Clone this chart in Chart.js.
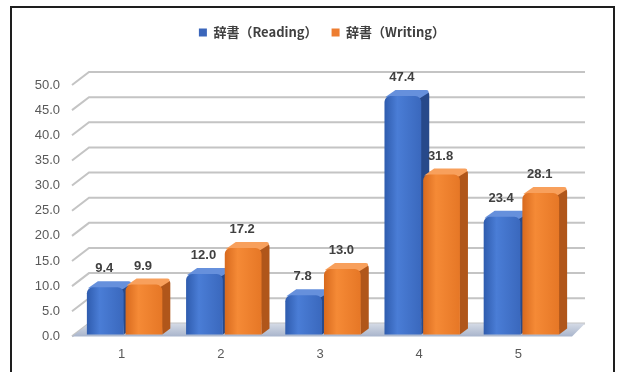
<!DOCTYPE html>
<html><head><meta charset="utf-8">
<script src="https://cdn.jsdelivr.net/npm/chart.js@4/dist/chart.umd.min.js"></script>
<style>html,body{margin:0;padding:0;background:#fff;}#wrap{width:617px;height:372px;position:relative;}</style>
</head><body><div id="wrap"><canvas id="c" width="617" height="372"></canvas></div>
<script>
const categories = ['1', '2', '3', '4', '5'];
const readingValues = [9.4, 12.0, 7.8, 47.4, 23.4];
const writingValues = [9.9, 17.2, 13.0, 31.8, 28.1];
const seriesNames = ['辞書（Reading）', '辞書（Writing）'];
const yTickValues = [0, 5, 10, 15, 20, 25, 30, 35, 40, 45, 50];

const WALL_DX = 17, WALL_DY = -13;
const BAR_DX = 8, BAR_DY = -6;
const BAR_SHIFT_X = 3, BAR_SHIFT_Y = -2;

const palette = [
  { front: ['#2f5cae', '#4a7dd6', '#3a68bd'], side: '#27498a', top: '#6690dc', legend: '#3b66bb' },
  { front: ['#d86a1e', '#f58a36', '#e67726'], side: '#b0561a', top: '#f8a05c', legend: '#ed7d31' }
];

const frame3d = {
  id: 'frame3d',
  beforeInit(chart) {
    const lg = chart.legend;
    if (lg) {
      const orig = lg.fit;
      lg.fit = function () { orig.call(this); this.height += 36; };
    }
  },
  beforeDraw(chart) {
    const ctx = chart.ctx;
    ctx.save();
    ctx.fillStyle = '#ffffff';
    ctx.fillRect(0, 0, chart.width, chart.height);
    ctx.strokeStyle = '#1e1e1e';
    ctx.lineWidth = 2;
    ctx.strokeRect(11, 7, 603, 380);
    ctx.restore();
  },
  beforeDatasetsDraw(chart) {
    const ctx = chart.ctx;
    const area = chart.chartArea;
    const ys = chart.scales.y;
    ctx.save();
    ctx.strokeStyle = '#c4c4c4';
    ctx.lineWidth = 2;
    yTickValues.forEach(v => {
      const py = ys.getPixelForValue(v);
      ctx.beginPath();
      ctx.moveTo(area.left, py);
      ctx.lineTo(area.left + WALL_DX, py + WALL_DY);
      ctx.lineTo(area.right + WALL_DX, py + WALL_DY);
      ctx.stroke();
    });
    const b = ys.getPixelForValue(0);
    const g = ctx.createLinearGradient(0, b + WALL_DY, 0, b);
    g.addColorStop(0, '#d5dbe6');
    g.addColorStop(1, '#a9b5cc');
    ctx.fillStyle = g;
    ctx.beginPath();
    ctx.moveTo(area.left, b);
    ctx.lineTo(area.left + WALL_DX, b + WALL_DY);
    ctx.lineTo(area.right + WALL_DX, b + WALL_DY);
    ctx.lineTo(area.right + 4, b);
    ctx.closePath();
    ctx.fill();

    const metas = [chart.getDatasetMeta(0), chart.getDatasetMeta(1)];
    const labels = [];
    categories.forEach((c, i) => {
      metas.forEach((meta, d) => {
        const el = meta.data[i];
        const p = palette[d];
        const x0 = el.x - el.width / 2 + BAR_SHIFT_X;
        const x1 = x0 + el.width;
        const top = el.y + BAR_SHIFT_Y;
        const base = el.base + BAR_SHIFT_Y;
        ctx.fillStyle = p.side;
        ctx.beginPath();
        ctx.moveTo(x1 - 2, top + 2);
        ctx.lineTo(x1 + BAR_DX - 2, top + BAR_DY + 2);
        ctx.quadraticCurveTo(x1 + BAR_DX, top + BAR_DY + 2, x1 + BAR_DX, top + BAR_DY + 5);
        ctx.lineTo(x1 + BAR_DX, base + BAR_DY);
        ctx.lineTo(x1, base);
        ctx.closePath();
        ctx.fill();
        ctx.fillStyle = p.top;
        ctx.beginPath();
        ctx.moveTo(x0 + 1, top + 1);
        ctx.lineTo(x0 + BAR_DX + 3, top + BAR_DY);
        ctx.lineTo(x1 + BAR_DX - 3, top + BAR_DY);
        ctx.quadraticCurveTo(x1 + BAR_DX, top + BAR_DY, x1 + BAR_DX - 1, top + BAR_DY + 3);
        ctx.lineTo(x1 - 1, top + 2);
        ctx.closePath();
        ctx.fill();
        const fg = ctx.createLinearGradient(x0, 0, x1, 0);
        fg.addColorStop(0, p.front[0]);
        fg.addColorStop(0.35, p.front[1]);
        fg.addColorStop(1, p.front[2]);
        ctx.fillStyle = fg;
        ctx.beginPath();
        ctx.roundRect(x0, top, x1 - x0, base - top, [6, 6, 0, 0]);
        ctx.fill();
        labels.push({ x: (x0 + x1) / 2 - 1, y: top + BAR_DY - 6, v: (d === 0 ? readingValues : writingValues)[i] });
      });
    });
    ctx.fillStyle = '#404040';
    ctx.font = 'bold 13px "Liberation Sans", Arial, sans-serif';
    ctx.textAlign = 'center';
    ctx.textBaseline = 'bottom';
    labels.forEach(l => ctx.fillText(l.v.toFixed(1), l.x, l.y));
    ctx.restore();
    return false;
  }
};

new Chart(document.getElementById('c'), {
  type: 'bar',
  data: {
    labels: categories,
    datasets: [
      { label: seriesNames[0], data: readingValues, backgroundColor: palette[0].legend },
      { label: seriesNames[1], data: writingValues, backgroundColor: palette[1].legend }
    ]
  },
  options: {
    responsive: false,
    animation: false,
    devicePixelRatio: 1,
    categoryPercentage: 0.78,
    barPercentage: 0.95,
    layout: { padding: { left: 27, right: 0, top: 12, bottom: 0 } },
    plugins: {
      legend: {
        position: 'top',
        labels: {
          boxWidth: 8, boxHeight: 8, padding: 14,
          color: '#404040',
          font: { family: '"Noto Sans CJK JP", sans-serif', size: 13, weight: 'bold' }
        }
      },
      tooltip: { enabled: false }
    },
    scales: {
      x: {
        grid: { display: false, drawTicks: false },
        border: { display: false },
        ticks: { color: '#595959', padding: 10, font: { family: '"Liberation Sans", Arial, sans-serif', size: 13 } }
      },
      y: {
        min: 0, max: 50,
        grid: { display: false, drawTicks: false },
        border: { display: false },
        afterFit(scale) { scale.width = 45; },
        afterBuildTicks(scale) { scale.ticks = yTickValues.map(v => ({ value: v })); },
        ticks: {
          color: '#595959', padding: 12,
          font: { family: '"Liberation Sans", Arial, sans-serif', size: 13 },
          callback: v => Number(v).toFixed(1)
        }
      },
      yRight: {
        type: 'linear',
        position: 'right',
        display: true,
        grid: { display: false, drawTicks: false },
        border: { display: false },
        ticks: { display: false },
        afterFit(scale) { scale.width = 49; }
      }
    }
  },
  plugins: [frame3d]
});
</script>
</body></html>
